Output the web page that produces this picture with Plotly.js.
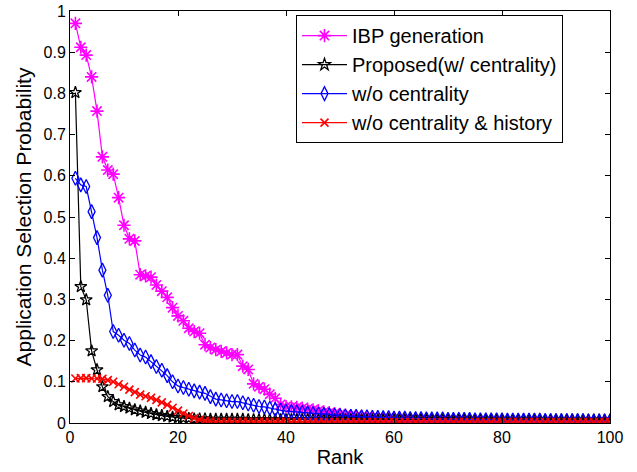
<!DOCTYPE html>
<html>
<head>
<meta charset="utf-8">
<script src="https://cdn.plot.ly/plotly-3.0.1.min.js"></script>
<style>html,body{margin:0;padding:0;background:#fff;}#chart{width:637px;height:472px;}</style>
</head>
<body>
<div id="chart"></div>
<script>
const seriesNames = ["IBP generation", "Proposed(w/ centrality)", "w/o centrality", "w/o centrality & history"];
const xTickVals = [0, 20, 40, 60, 80, 100];
const yTickVals = [0, 0.1, 0.2, 0.3, 0.4, 0.5, 0.6, 0.7, 0.8, 0.9, 1];

const ibp = [0.970,0.912,0.893,0.840,0.757,0.646,0.614,0.604,0.547,0.480,
 0.447,0.442,0.360,0.357,0.354,0.335,0.320,0.305,0.280,0.260,
 0.248,0.230,0.222,0.218,0.190,0.183,0.178,0.174,0.170,0.166,
 0.166,0.138,0.130,0.095,0.088,0.082,0.070,0.060,0.045,0.040,
 0.039,0.038,0.036,0.034,0.032,0.030,0.027,0.025,0.023,0.021,
 0.019,0.018,0.017,0.016,0.015,0.014,0.013,0.012,0.012,0.011,
 0.010,0.010,0.009,0.009,0.009,0.008,0.008,0.008,0.007,0.007,
 0.007,0.007,0.006,0.006,0.006,0.006,0.006,0.005,0.005,0.005,
 0.005,0.005,0.005,0.004,0.004,0.004,0.004,0.004,0.004,0.004,
 0.004,0.003,0.003,0.003,0.003,0.003,0.003,0.003,0.003,0.003];

const proposed = [0.802,0.331,0.299,0.175,0.129,0.088,0.064,0.052,0.044,0.040,
 0.036,0.032,0.029,0.026,0.023,0.020,0.018,0.016,0.014,0.013,
 0.012,0.011,0.010,0.010,0.010,0.009,0.009,0.009,0.009,0.009,
 0.009,0.009,0.008,0.008,0.008,0.008,0.008,0.008,0.008,0.008,
 0.008,0.008,0.008,0.008,0.008,0.008,0.008,0.008,0.008,0.008,
 0.008,0.008,0.008,0.008,0.008,0.008,0.008,0.008,0.008,0.008,
 0.008,0.008,0.008,0.008,0.008,0.008,0.008,0.008,0.008,0.008,
 0.007,0.007,0.007,0.007,0.007,0.007,0.007,0.007,0.007,0.007,
 0.007,0.007,0.007,0.007,0.007,0.007,0.007,0.007,0.007,0.007,
 0.007,0.007,0.007,0.007,0.007,0.007,0.007,0.007,0.007,0.007];

const woCentrality = [0.594,0.578,0.574,0.513,0.450,0.371,0.310,0.222,0.213,0.201,
 0.193,0.177,0.165,0.160,0.149,0.137,0.128,0.115,0.100,0.090,
 0.086,0.082,0.078,0.075,0.072,0.064,0.058,0.056,0.054,0.052,
 0.052,0.049,0.046,0.043,0.040,0.039,0.036,0.033,0.031,0.029,
 0.028,0.027,0.026,0.024,0.023,0.022,0.021,0.020,0.019,0.018,
 0.017,0.016,0.016,0.015,0.015,0.014,0.014,0.013,0.013,0.012,
 0.012,0.012,0.011,0.011,0.011,0.010,0.010,0.010,0.010,0.009,
 0.009,0.009,0.009,0.009,0.008,0.008,0.008,0.008,0.008,0.008,
 0.007,0.007,0.007,0.007,0.007,0.007,0.007,0.006,0.006,0.006,
 0.006,0.006,0.006,0.006,0.006,0.005,0.005,0.005,0.005,0.005];

const woCentralityHistory = [0.108,0.109,0.109,0.108,0.108,0.107,0.104,0.100,0.094,0.088,
 0.081,0.075,0.069,0.065,0.061,0.056,0.050,0.044,0.037,0.030,
 0.023,0.017,0.012,0.008,0.005,0.004,0.003,0.003,0.003,0.003,
 0.003,0.003,0.003,0.003,0.003,0.003,0.003,0.003,0.003,0.003,
 0.002,0.002,0.002,0.002,0.002,0.002,0.002,0.002,0.002,0.002,
 0.002,0.002,0.002,0.002,0.002,0.002,0.002,0.002,0.002,0.002,
 0.002,0.002,0.002,0.002,0.002,0.002,0.002,0.002,0.002,0.002,
 0.002,0.002,0.002,0.002,0.002,0.002,0.002,0.002,0.002,0.002,
 0.002,0.002,0.002,0.002,0.002,0.002,0.002,0.002,0.002,0.002,
 0.002,0.002,0.002,0.002,0.002,0.002,0.002,0.002,0.002,0.002];

const ranks = ibp.map((_, i) => i + 1);

const FONT = "Liberation Sans, Arial, Helvetica, sans-serif";

const traces = [
  {name: seriesNames[0], y: ibp, color: "#ff00ff", symbol: "asterisk-open", size: 11, lw: 1.6},
  {name: seriesNames[1], y: proposed, color: "#000000", symbol: "star-open", size: 9, lw: 1.3},
  {name: seriesNames[2], y: woCentrality, color: "#0000ff", symbol: "diamond-tall-open", size: 10, lw: 1.3},
  {name: seriesNames[3], y: woCentralityHistory, color: "#ff0000", symbol: "x-thin-open", size: 8, lw: 1.6}
].map(s => ({
  type: "scatter",
  mode: "lines+markers",
  name: s.name,
  x: ranks,
  y: s.y,
  line: {color: s.color, width: 1.2},
  marker: {symbol: s.symbol, size: s.size, color: s.color, line: {color: s.color, width: s.lw}}
}));

const axisCommon = {
  showgrid: false,
  zeroline: false,
  showline: true,
  linecolor: "#000",
  linewidth: 1,
  mirror: "ticks",
  ticks: "inside",
  ticklen: 5,
  tickcolor: "#000",
  tickfont: {family: FONT, size: 16, color: "#000"}
};

const layout = {
  width: 637,
  height: 472,
  margin: {l: 70, r: 27, t: 11, b: 49},
  paper_bgcolor: "#fff",
  plot_bgcolor: "#fff",
  font: {family: FONT, color: "#000"},
  showlegend: true,
  xaxis: Object.assign({}, axisCommon, {
    range: [0, 100],
    tickvals: xTickVals,
    title: {text: "Rank", font: {family: FONT, size: 20, color: "#000"}, standoff: 4}
  }),
  yaxis: Object.assign({}, axisCommon, {
    range: [0, 1],
    tickvals: yTickVals,
    title: {text: "Application Selection Probability", font: {family: FONT, size: 21, color: "#000"}, standoff: 6}
  }),
  legend: {
    x: 0.4185, y: 0.99, xanchor: "left", yanchor: "top",
    bgcolor: "#fff", bordercolor: "#000", borderwidth: 1,
    font: {family: FONT, size: 20, color: "#000"},
    itemwidth: 45,
    tracegroupgap: 0
  }
};

Plotly.newPlot("chart", traces, layout, {displayModeBar: false, staticPlot: true});
</script>
</body>
</html>
